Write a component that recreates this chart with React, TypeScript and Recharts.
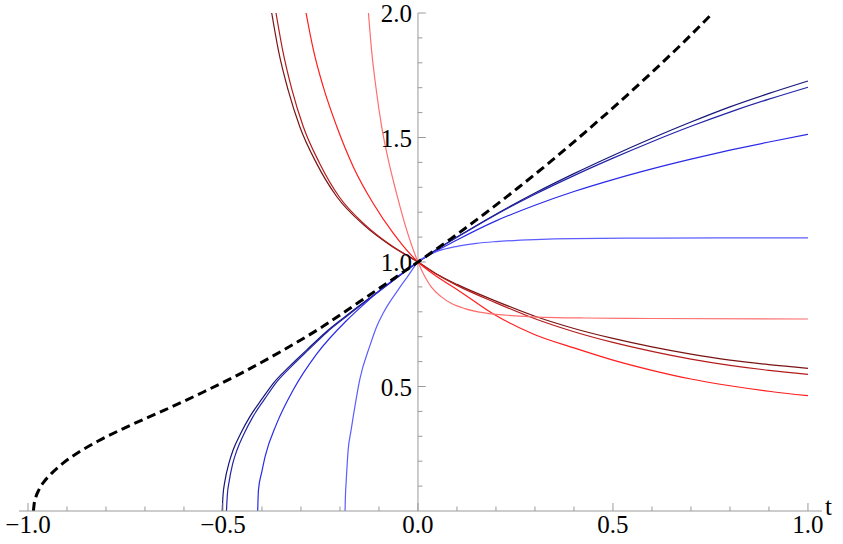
import { LineChart, Line, XAxis, YAxis, ReferenceLine, ReferenceDot } from "recharts";

// ─── Data (t, y) ─────────────────────────────────────────────────────────────
type Pt = [number, number];

const dashedCurve: Pt[] = [
  [-0.986, 0], [-0.984, 0.03], [-0.98, 0.055], [-0.972, 0.085], [-0.96, 0.115],
  [-0.94, 0.15], [-0.91, 0.192], [-0.87, 0.236], [-0.82, 0.281], [-0.75, 0.335],
  [-0.65, 0.405], [-0.55, 0.478], [-0.45, 0.556], [-0.35, 0.642], [-0.25, 0.735],
  [-0.15, 0.84], [-0.075, 0.92], [0, 1], [0.085, 1.094], [0.171, 1.194],
  [0.256, 1.297], [0.342, 1.406], [0.427, 1.519], [0.513, 1.637], [0.598, 1.759],
  [0.684, 1.887], [0.756, 2.0],
];

const blueNavy: Pt[] = [
  [-0.502, 0], [-0.5, 0.06], [-0.495, 0.12], [-0.485, 0.19], [-0.474, 0.245],
  [-0.455, 0.31], [-0.431, 0.379], [-0.4, 0.45], [-0.371, 0.513], [-0.33, 0.58],
  [-0.285, 0.647], [-0.235, 0.72], [-0.183, 0.785], [-0.12, 0.86], [-0.06, 0.93],
  [0, 1], [0.05, 1.052], [0.1, 1.1], [0.2, 1.192], [0.3, 1.277], [0.4, 1.355],
  [0.5, 1.428], [0.6, 1.497], [0.7, 1.562], [0.8, 1.623], [0.9, 1.677], [1.0, 1.727],
];

const blueDark: Pt[] = [
  [-0.491, 0], [-0.489, 0.06], [-0.484, 0.12], [-0.475, 0.19], [-0.464, 0.245],
  [-0.446, 0.31], [-0.423, 0.379], [-0.393, 0.45], [-0.365, 0.513], [-0.325, 0.58],
  [-0.281, 0.647], [-0.232, 0.72], [-0.181, 0.784], [-0.119, 0.859], [-0.06, 0.93],
  [0, 1], [0.05, 1.052], [0.1, 1.099], [0.2, 1.19], [0.3, 1.272], [0.4, 1.347],
  [0.5, 1.417], [0.6, 1.483], [0.7, 1.545], [0.8, 1.602], [0.9, 1.654], [1.0, 1.702],
];

const blueMid: Pt[] = [
  [-0.411, 0], [-0.409, 0.084], [-0.4, 0.16], [-0.392, 0.218], [-0.362, 0.352],
  [-0.32, 0.486], [-0.26, 0.63], [-0.183, 0.765], [-0.135, 0.835], [-0.089, 0.897],
  [-0.045, 0.95], [0, 1], [0.1, 1.088], [0.2, 1.165], [0.3, 1.228], [0.4, 1.283],
  [0.5, 1.331], [0.6, 1.374], [0.7, 1.413], [0.8, 1.449], [0.9, 1.482], [1.0, 1.513],
];

const blueLight: Pt[] = [
  [-0.187, 0], [-0.186, 0.06], [-0.184, 0.12], [-0.179, 0.245], [-0.172, 0.32],
  [-0.166, 0.379], [-0.149, 0.53], [-0.123, 0.665], [-0.106, 0.74], [-0.089, 0.795],
  [-0.05, 0.89], [-0.025, 0.945], [0, 1], [0.02, 1.022], [0.05, 1.043], [0.1, 1.063],
  [0.15, 1.075], [0.2, 1.082], [0.3, 1.09], [0.4, 1.094], [0.6, 1.096], [1.0, 1.097],
];

const redDark: Pt[] = [
  [-0.375, 2.0], [-0.358, 1.851], [-0.333, 1.691], [-0.303, 1.543], [-0.26, 1.396],
  [-0.208, 1.262], [-0.14, 1.15], [-0.072, 1.068], [0, 1], [0.05, 0.95], [0.1, 0.91],
  [0.2, 0.843], [0.3, 0.782], [0.4, 0.733], [0.5, 0.693], [0.6, 0.659], [0.7, 0.63],
  [0.8, 0.606], [0.9, 0.588], [1.0, 0.573],
];

const redDeep: Pt[] = [
  [-0.364, 2.0], [-0.347, 1.851], [-0.323, 1.691], [-0.294, 1.543], [-0.252, 1.396],
  [-0.202, 1.262], [-0.136, 1.15], [-0.07, 1.068], [0, 1], [0.05, 0.949], [0.1, 0.906],
  [0.2, 0.836], [0.3, 0.772], [0.4, 0.72], [0.5, 0.677], [0.6, 0.641], [0.7, 0.61],
  [0.8, 0.585], [0.9, 0.565], [1.0, 0.549],
];

const redBright: Pt[] = [
  [-0.287, 2.0], [-0.268, 1.851], [-0.243, 1.704], [-0.208, 1.543], [-0.166, 1.383],
  [-0.115, 1.236], [-0.063, 1.115], [0, 1], [0.05, 0.94], [0.1, 0.89], [0.2, 0.785],
  [0.3, 0.708], [0.4, 0.655], [0.5, 0.606], [0.6, 0.565], [0.7, 0.53], [0.8, 0.503],
  [0.9, 0.481], [1.0, 0.463],
];

const redLight: Pt[] = [
  [-0.127, 2.0], [-0.119, 1.851], [-0.108, 1.704], [-0.093, 1.543], [-0.076, 1.41],
  [-0.055, 1.276], [-0.029, 1.129], [0, 1], [0.01, 0.965], [0.02, 0.935], [0.034, 0.9],
  [0.06, 0.86], [0.085, 0.834], [0.12, 0.813], [0.154, 0.8], [0.2, 0.79], [0.282, 0.781],
  [0.427, 0.775], [0.6, 0.773], [1.0, 0.771],
];

// ─── Ticks ───────────────────────────────────────────────────────────────────
const xTicks = [
  -1, -0.9, -0.8, -0.7, -0.6, -0.5, -0.4, -0.3, -0.2, -0.1, 0,
  0.1, 0.2, 0.3, 0.4, 0.5, 0.6, 0.7, 0.8, 0.9, 1,
];
const xMajor = [-1, -0.5, 0, 0.5, 1];
const xLabels = ["\u22121.0", "\u22120.5", "0.0", "0.5", "1.0"];

const yTicks = [
  0.1, 0.2, 0.3, 0.4, 0.5, 0.6, 0.7, 0.8, 0.9, 1.0,
  1.1, 1.2, 1.3, 1.4, 1.5, 1.6, 1.7, 1.8, 1.9, 2.0,
];
const yMajor = [0.5, 1.0, 1.5, 2.0];
const yLabels = ["0.5", "1.0", "1.5", "2.0"];

// ─── Styling ─────────────────────────────────────────────────────────────────
const AXIS = "#9a9a9a";
const SERIF = "'Times New Roman', 'Liberation Serif', Times, serif";
const FONT_SIZE = 25;

const series = [
  { key: "blueNavy", pts: blueNavy, color: "#16167a" },
  { key: "blueDark", pts: blueDark, color: "#2323a8" },
  { key: "blueMid", pts: blueMid, color: "#2a2ae8" },
  { key: "blueLight", pts: blueLight, color: "#5c5cff" },
  { key: "redDark", pts: redDark, color: "#7a1414" },
  { key: "redDeep", pts: redDeep, color: "#b41c1c" },
  { key: "redBright", pts: redBright, color: "#ff1e1e" },
  { key: "redLight", pts: redLight, color: "#ff6e6e" },
];

const toRows = (pts: Pt[]) => pts.map(([t, y]) => ({ t, y }));

const majorIndex = (v: number, majors: number[]) =>
  majors.findIndex((m) => Math.abs(m - v) < 1e-6);

const labelStyle: any = { fontFamily: SERIF, fontSize: `${FONT_SIZE}px`, fill: "#000" };

function XTick({ x, y, payload }: any) {
  const idx = majorIndex(payload.value, xMajor);
  return (
    <g>
      <line x1={x} x2={x} y1={y} y2={y - (idx >= 0 ? 8 : 4.5)} stroke={AXIS} strokeWidth={1} />
      {idx >= 0 && (
        <text x={x} y={y + 22} textAnchor="middle" style={labelStyle}>
          {xLabels[idx]}
        </text>
      )}
    </g>
  );
}

// label drawn left of a zero-radius ReferenceDot
const leftLabel = (text: string) => (props: any) => {
  const vb = props.viewBox;
  return (
    <text x={vb.x - 6} y={vb.y + 9} textAnchor="end" style={labelStyle}>
      {text}
    </text>
  );
};

const rightLabel = (text: string) => (props: any) => {
  const vb = props.viewBox;
  return (
    <text x={vb.x + 17} y={vb.y + 4} textAnchor="start" style={labelStyle}>
      {text}
    </text>
  );
};

export default function App() {
  return (
    <div style={{ position: "absolute", left: 0, top: 0, width: 843, height: 544, background: "#fff", fontFamily: SERIF }}>
      <LineChart width={843} height={544} margin={{ top: 13, right: 21, bottom: 0, left: 19 }} style={{ fontFamily: SERIF }}>
        <XAxis
          dataKey="t"
          type="number"
          domain={[-1.023, 1.036]}
          allowDataOverflow
          ticks={xTicks}
          interval={0}
          tickLine={false}
          tickSize={0}
          tickMargin={0}
          height={33}
          axisLine={{ stroke: AXIS, strokeWidth: 1 }}
          tick={<XTick />}
        />
        <YAxis hide type="number" domain={[0, 2]} allowDataOverflow />

        {/* vertical axis at t = 0 */}
        <ReferenceLine x={0} stroke={AXIS} strokeWidth={1} />
        {yTicks.map((v) => {
          const major = majorIndex(v, yMajor) >= 0;
          return (
            <ReferenceLine
              key={`yt${v}`}
              segment={[{ x: 0, y: v }, { x: major ? 0.02 : 0.0115, y: v }]}
              stroke={AXIS}
              strokeWidth={1}
            />
          );
        })}
        {yMajor.map((v, i) => (
          <ReferenceDot
            key={`yl${v}`}
            x={0}
            y={v}
            r={0}
            fill="none"
            stroke="none"
            label={leftLabel(yLabels[i])}
          />
        ))}
        <ReferenceDot x={1} y={0} r={0} fill="none" stroke="none" label={rightLabel("t")} />

        {series.map((s) => (
          <Line
            key={s.key}
            data={toRows(s.pts)}
            dataKey="y"
            type="monotone"
            stroke={s.color}
            strokeWidth={1.2}
            dot={false}
            activeDot={false}
            isAnimationActive={false}
          />
        ))}

        <Line
          data={toRows(dashedCurve)}
          dataKey="y"
          type="monotone"
          stroke="#000"
          strokeWidth={3}
          strokeDasharray="9 5"
          dot={false}
          activeDot={false}
          isAnimationActive={false}
        />
      </LineChart>
    </div>
  );
}
